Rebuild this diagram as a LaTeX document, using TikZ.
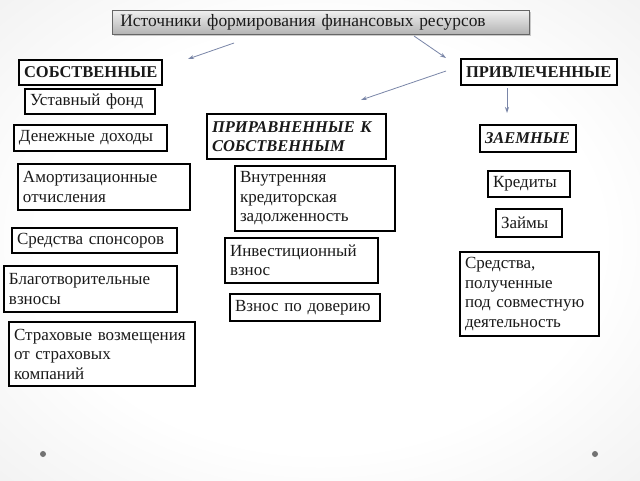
\documentclass[tikz,border=0pt]{standalone}
\usepackage{fontspec}
\setmainfont{Liberation Serif}
\usetikzlibrary{shadows,arrows.meta}
\definecolor{arrowc}{HTML}{7A86A8}
\definecolor{txt}{HTML}{1A1A1A}
\pgfdeclareradialshading{bgshade}{\pgfpoint{0bp}{0bp}}{color(0bp)=(white);color(22bp)=(white);color(50bp)=(black!10);color(72bp)=(black!22)}
\tikzset{
  bx/.style={draw=black, line width=2pt, fill=white, anchor=north west,
    inner xsep=5pt, inner ysep=0pt, align=left, text=txt,
    font=\fontsize{17}{19.5}\selectfont},
  hd/.style={bx, font=\fontsize{16.5}{19.5}\selectfont\bfseries},
  hdi/.style={bx, font=\fontsize{16.5}{19.5}\selectfont\bfseries\itshape},
  arr/.style={draw=arrowc, line width=0.8pt, -{Stealth[length=6pt,width=4pt]}},
  dot/.style={circle, fill=black!55, inner sep=0pt, minimum size=6pt},
}
\begin{document}
\begin{tikzpicture}[x=1pt,y=-1pt]
\useasboundingbox (0,0) rectangle (640,480);
\shade[shading=bgshade] (0,0) rectangle (640,480);
% title
\node[anchor=north west, draw=black!60, line width=0.8pt, top color=black!6, bottom color=black!30,
  drop shadow={shadow xshift=1.5pt, shadow yshift=-1.5pt, opacity=0.4},
  minimum width=417, minimum height=24, text width=401, inner xsep=8pt, inner ysep=0pt,
  align=left, text=txt, font=\fontsize{17.4}{20}\selectfont] (title) at (112,10)
  {Источники формирования финансовых ресурсов};
% headings
\node[hd, minimum width=143, minimum height=25, text width=133] (sob) at (18,59) {СОБСТВЕННЫЕ};
\node[hd, minimum width=156, minimum height=26, text width=146] (priv) at (460,58) {ПРИВЛЕЧЕННЫЕ};
\node[hdi, minimum width=179, minimum height=45, text width=169] (prir) at (206,113) {ПРИРАВНЕННЫЕ К\\СОБСТВЕННЫМ};
\node[hdi, minimum width=96, minimum height=27, text width=86] (zaem) at (479,124) {ЗАЕМНЫЕ};
% left column
\node[bx, minimum width=130, minimum height=25, text width=120] (ustav) at (24,88) {Уставный фонд};
\node[bx, minimum width=153, minimum height=26, text width=143] (den) at (13,124) {Денежные доходы};
\node[bx, minimum width=172, minimum height=46, text width=162] (amort) at (17,163) {Амортизационные\\отчисления};
\node[bx, minimum width=165, minimum height=25, text width=155] (spons) at (11,227) {Средства спонсоров};
\node[bx, minimum width=173, minimum height=46, text width=163] (blag) at (3,265) {Благотворительные\\взносы};
\node[bx, minimum width=186, minimum height=64, text width=176] (strah) at (8,321) {Страховые возмещения\\от страховых\\компаний};
% middle column
\node[bx, minimum width=160, minimum height=65, text width=150] (vnutr) at (234,165) {Внутренняя\\кредиторская\\задолженность};
\node[bx, minimum width=153, minimum height=45, text width=143] (invest) at (224,237) {Инвестиционный\\взнос};
\node[bx, minimum width=150, minimum height=27, text width=140] (dover) at (229,293) {Взнос по доверию};
% right column
\node[bx, minimum width=82, minimum height=26, text width=72] (kred) at (487,170) {Кредиты};
\node[bx, minimum width=66, minimum height=28, text width=56] (zaim) at (495,208) {Займы};
\node[bx, minimum width=139, minimum height=84, text width=129] (sovm) at (459,251) {Средства,\\полученные\\под совместную\\деятельность};
% arrows
\coordinate (a1s) at (234,43); \coordinate (a1e) at (188,59);
\coordinate (a2s) at (414,36); \coordinate (a2e) at (446,58);
\coordinate (a3s) at (446,71); \coordinate (a3e) at (361,100);
\coordinate (a4s) at (507,88); \coordinate (a4e) at (507,113);
\draw[arr] (a1s) -- (a1e);
\draw[arr] (a2s) -- (a2e);
\draw[arr] (a3s) -- (a3e);
\draw[arr] (a4s) -- (a4e);
% dots
\node[dot] (d1) at (43,454) {};
\node[dot] (d2) at (595,454) {};
\end{tikzpicture}
\end{document}
